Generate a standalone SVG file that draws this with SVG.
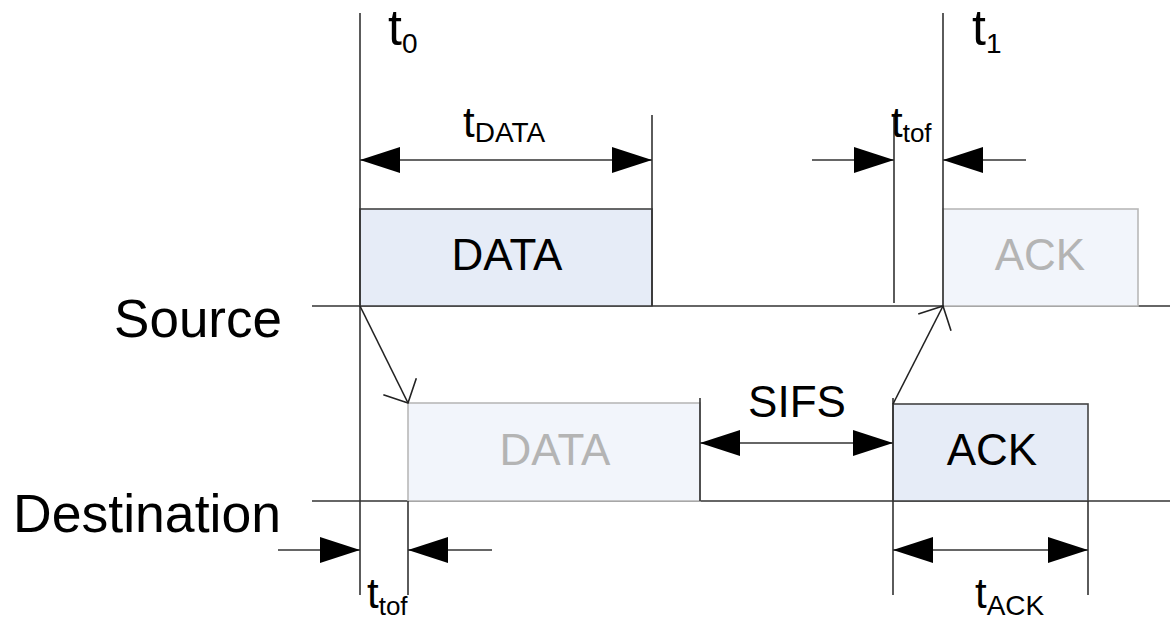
<svg xmlns="http://www.w3.org/2000/svg" width="1170" height="621" viewBox="0 0 1170 621">
<style>
  .ln{stroke:#333;stroke-width:1.6;fill:none}
  .dim{stroke:#333;stroke-width:1.6;fill:none;marker-end:url(#tri)}
  .dim2{stroke:#333;stroke-width:1.6;fill:none;marker-start:url(#tri);marker-end:url(#tri)}
  .sig{stroke:#222;stroke-width:1.6;fill:none;marker-end:url(#open)}
  .box{fill:#e6ecf7;stroke:#444;stroke-width:1.6}
  .ghost{fill:#f2f5fb;stroke:#b8b8b8;stroke-width:1.6}
  text{font-family:"Liberation Sans",Arial,sans-serif;fill:#000}
  .big{font-size:53px}
  .tt{font-size:50px}
  .lbl{font-size:44px;text-anchor:middle}
  .glbl{font-size:44px;text-anchor:middle;fill:#b4b4b4}
  .t{font-size:42px}
</style>
<defs>
  <marker id="tri" viewBox="-41 -14 42 28" refX="0" refY="0" markerWidth="42" markerHeight="28" markerUnits="userSpaceOnUse" orient="auto-start-reverse" overflow="visible">
    <path d="M0,0 L-40,-13 L-40,13 Z" fill="#000"/>
  </marker>
  <marker id="open" viewBox="-20 -20 22 40" refX="0" refY="0" markerWidth="22" markerHeight="40" markerUnits="userSpaceOnUse" orient="auto" overflow="visible">
    <path d="M-18.4,-18.4 L0,0 L-18.4,18.4" fill="none" stroke="#222" stroke-width="1.6"/>
  </marker>
</defs>

<g id="timelines">
  <line class="ln" x1="312" y1="306" x2="1170" y2="306"/>
  <line class="ln" x1="312" y1="501" x2="1170" y2="501"/>
  <text class="big" x="282" y="337" text-anchor="end">Source</text>
  <text class="big" x="281" y="532" text-anchor="end" textLength="268" lengthAdjust="spacingAndGlyphs">Destination</text>
</g>

<g id="node-data-src">
  <rect class="box" x="360" y="209" width="292" height="97"/>
  <text class="lbl" x="507" y="270">DATA</text>
</g>
<g id="node-ack-src">
  <rect class="ghost" x="943" y="209" width="195" height="97"/>
  <text class="glbl" x="1040" y="270">ACK</text>
</g>
<g id="node-data-dst">
  <rect class="ghost" x="408" y="403" width="292" height="98"/>
  <text class="glbl" x="555" y="465">DATA</text>
</g>
<g id="node-ack-dst">
  <rect class="box" x="893" y="404" width="195" height="97"/>
  <text class="lbl" x="992" y="465">ACK</text>
</g>

<g id="connectors">
  <line class="ln" x1="360" y1="13" x2="360" y2="595"/>
  <line class="ln" x1="652" y1="115" x2="652" y2="306"/>
  <line class="ln" x1="943" y1="13" x2="943" y2="306"/>
  <line class="ln" x1="894" y1="115" x2="894" y2="303"/>
  <line class="ln" x1="408" y1="501" x2="408" y2="595"/>
  <line class="ln" x1="700" y1="398" x2="700" y2="501"/>
  <line class="ln" x1="893" y1="398" x2="893" y2="595"/>
  <line class="ln" x1="1088" y1="501" x2="1088" y2="595"/>
  <line class="dim2" x1="360" y1="160" x2="652" y2="160"/>
  <line class="dim" x1="812" y1="160" x2="894" y2="160"/>
  <line class="dim" x1="1026" y1="160" x2="943" y2="160"/>
  <line class="dim2" x1="700" y1="443" x2="893" y2="443"/>
  <line class="dim" x1="278" y1="550" x2="360" y2="550"/>
  <line class="dim" x1="492" y1="550" x2="408" y2="550"/>
  <line class="dim2" x1="893" y1="550" x2="1088" y2="550"/>
  <line class="sig" x1="360" y1="306" x2="408" y2="403"/>
  <line class="sig" x1="893" y1="404" x2="943" y2="306"/>
</g>

<g id="labels">
  <text class="tt" x="388" y="45">t<tspan font-size="28" dy="8">0</tspan></text>
  <text class="tt" x="972" y="45">t<tspan font-size="28" dy="8">1</tspan></text>
  <text class="t" x="463" y="137">t<tspan font-size="28" dy="5">DATA</tspan></text>
  <text class="t" x="891" y="137">t<tspan font-size="26" dy="5">tof</tspan></text>
  <text class="lbl" x="797" y="417">SIFS</text>
  <text class="t" x="367" y="608">t<tspan font-size="26" dy="7">tof</tspan></text>
  <text class="t" x="975" y="608">t<tspan font-size="28" dy="7">ACK</tspan></text>
</g>
</svg>
